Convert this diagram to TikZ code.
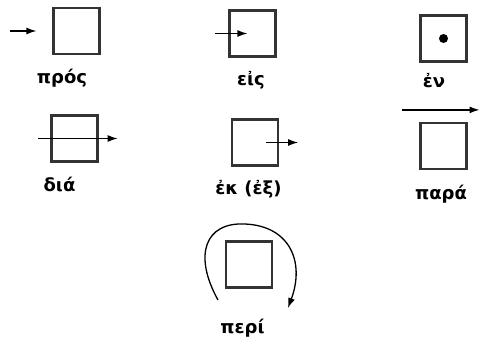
\documentclass[tikz,border=0pt]{standalone}
\usepackage{fontspec}
\setmainfont{DejaVu Sans}
\usetikzlibrary{arrows.meta}

\tikzset{
  prep/.style={draw=black!80, line width=2.2pt, minimum width=46pt, minimum height=46pt, inner sep=0pt},
  word/.style={font=\fontsize{18}{20}\selectfont\bfseries, inner sep=0pt},
  motion/.style={line width=1.3pt, -{Latex[length=10pt,width=7pt]}}
}

\begin{document}
\begin{tikzpicture}[x=1pt,y=-1pt]
    \useasboundingbox (0,0) rectangle (481,339);
    % Boxes
    \node[prep] (pros) at (76.5,31) {};
    \node[prep] (eis) at (252.5,33.5) {};
    \node[prep] (en) at (443.5,38.5) {};
    \node[prep] (dia) at (74.5,138.5) {};
    \node[prep] (ek) at (255,142.5) {};
    \node[prep] (para) at (443.5,146) {};
    \node[prep] (peri) at (249,264.5) {};
    % Words under the boxes
    \node[word] (prosw) at (62,78) {πρός};
    \node[word] (eisw) at (251,80) {εἰς};
    \node[word] (enw) at (434,81) {ἐν};
    \node[word] (diaw) at (59.5,184) {διά};
    \node[word] (ekw) at (248.5,189) {ἐκ (ἐξ)};
    \node[word] (paraw) at (441,194) {παρά};
    \node[word] (periw) at (242.5,328) {περί};
    % Dot inside
    \fill (en) circle (4.5pt);

\begin{scope}[motion]
    \draw ([xshift=-42pt]pros.west) -- ([xshift=-16pt]pros.west);
    \draw ([xshift=-13pt]eis.west) -- ([xshift=19pt]eis.west);
    \draw ([xshift=-12pt]dia.west) -- ([xshift=19pt]dia.east);
    \draw ([xshift=-13pt]ek.east) -- ([xshift=19pt]ek.east);
    \draw ([xshift=-42pt,yshift=12pt]para.north) -- ([xshift=36pt,yshift=12pt]para.north);
    % round about
    \coordinate (peris) at (218,300);
    \coordinate (perie) at (288,308);
    \draw (peris) .. controls (193,255) and (205,222) .. (245,224)
        .. controls (290,226) and (305,262) .. (perie);
\end{scope}
\end{tikzpicture}
\end{document}
